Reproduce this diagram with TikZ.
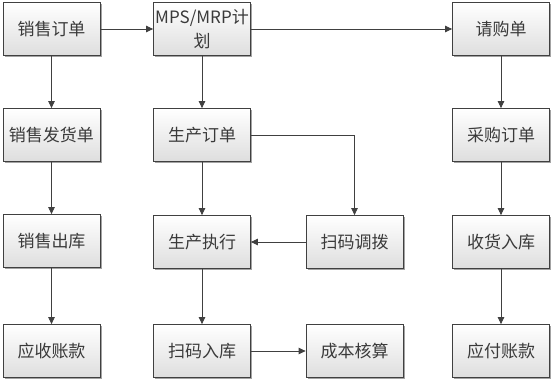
\documentclass[tikz,border=0pt]{standalone}
\usepackage{fontspec}
\setmainfont{Noto Sans CJK SC}
\usetikzlibrary{shadows,arrows.meta}
\definecolor{edge}{HTML}{404040}
\definecolor{txt}{HTML}{3A3A3A}
\begin{document}
\begin{tikzpicture}[x=1pt,y=-1pt,
  box/.style={draw=edge, line width=0.8pt, top color=white, bottom color=black!13,
    minimum width=97pt, minimum height=53pt, inner sep=1pt, align=center,
    text=txt, font=\fontsize{17}{24}\selectfont,
    drop shadow={shadow xshift=1.6pt, shadow yshift=-1.6pt, fill=black!45, opacity=0.8}},
  arr/.style={draw=edge, line width=0.8pt, -{Triangle[length=7pt,width=6.5pt]}}]
\useasboundingbox (0,0) rectangle (555,386);
% column 1
\node[box] (so) at (51.5,29) {销售订单};
\node[box] (fh) at (51.5,135) {销售发货单};
\node[box] (ck) at (51.5,241) {销售出库};
\node[box] (ys) at (51.5,351) {应收账款};
% column 2
\node[box] (mps) at (202,29) {MPS/MRP计\\划};
\node[box] (scdd) at (202,135) {生产订单};
\node[box] (zx) at (202,242) {生产执行};
\node[box] (rk) at (202,351) {扫码入库};
% column 3
\node[box] (db) at (354.5,242) {扫码调拨};
\node[box] (cb) at (354.5,351) {成本核算};
% column 4
\node[box] (qg) at (501,29) {请购单};
\node[box] (cg) at (501,135) {采购订单};
\node[box] (sh) at (501,242) {收货入库};
\node[box] (yf) at (501,351) {应付账款};
% connectors
\draw[arr] (so) -- (mps);
\draw[arr] (mps) -- (qg);
\draw[arr] (mps) -- (scdd);
\draw[arr] (so) -- (fh);
\draw[arr] (fh) -- (ck);
\draw[arr] (ck) -- (ys);
\draw[arr] (scdd) -- (zx);
\draw[arr] (scdd.east) -| (db.north);
\draw[arr] (db) -- (zx);
\draw[arr] (zx) -- (rk);
\draw[arr] (rk) -- (cb);
\draw[arr] (qg) -- (cg);
\draw[arr] (cg) -- (sh);
\draw[arr] (sh) -- (yf);
\end{tikzpicture}
\end{document}
